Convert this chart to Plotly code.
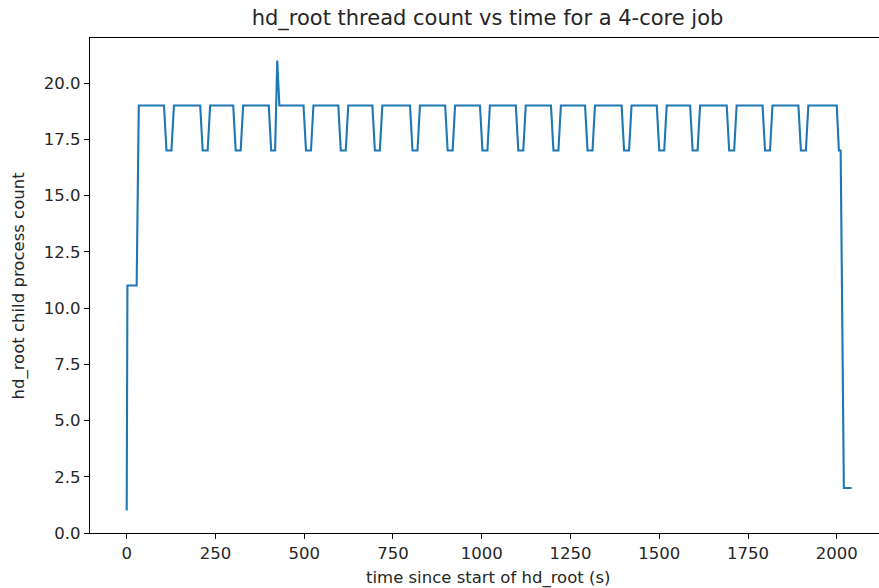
import plotly.graph_objects as go

# Data (time in s, thread count)
time_s = [
    0, 2, 28, 34,
    105, 112, 126, 133,
    207, 214, 228, 235,
    300, 307, 321, 328,
    400, 407, 418, 424, 430,
    498, 505, 519, 526,
    596, 603, 617, 624,
    692, 699, 713, 720,
    798, 805, 819, 826,
    897, 904, 918, 925,
    995, 1002, 1016, 1023,
    1096, 1103, 1117, 1124,
    1195, 1202, 1216, 1223,
    1291, 1298, 1312, 1319,
    1394, 1401, 1415, 1422,
    1493, 1500, 1514, 1521,
    1587, 1594, 1608, 1615,
    1690, 1697, 1711, 1718,
    1791, 1798, 1812, 1819,
    1892, 1899, 1913, 1920,
    2000, 2006, 2011, 2020, 2042,
]
thread_count = [
    1, 11, 11, 19,
    19, 17, 17, 19,
    19, 17, 17, 19,
    19, 17, 17, 19,
    19, 17, 17, 21, 19,
    19, 17, 17, 19,
    19, 17, 17, 19,
    19, 17, 17, 19,
    19, 17, 17, 19,
    19, 17, 17, 19,
    19, 17, 17, 19,
    19, 17, 17, 19,
    19, 17, 17, 19,
    19, 17, 17, 19,
    19, 17, 17, 19,
    19, 17, 17, 19,
    19, 17, 17, 19,
    19, 17, 17, 19,
    19, 17, 17, 19,
    19, 17, 17, 19,
    19, 17, 17, 2, 2,
]
x_ticks = [0, 250, 500, 750, 1000, 1250, 1500, 1750, 2000]
y_ticks = [0.0, 2.5, 5.0, 7.5, 10.0, 12.5, 15.0, 17.5, 20.0]

title_text = "hd_root thread count vs time for a 4-core job"
x_label = "time since start of hd_root (s)"
y_label = "hd_root child process count"

FONT = "DejaVu Sans"

fig = go.Figure()
fig.add_trace(go.Scatter(
    x=time_s, y=thread_count, mode="lines",
    line=dict(color="#1f77b4", width=2.1),
    showlegend=False, hoverinfo="skip",
))

fig.update_layout(
    width=879, height=588,
    margin=dict(l=90, r=0, t=38, b=55, autoexpand=False),
    paper_bgcolor="white", plot_bgcolor="white",
    font=dict(family=FONT, size=16, color="#262626"),
    title=dict(text=title_text, x=487.5 / 879, xanchor="center",
               y=1 - 18 / 588, yanchor="middle",
               font=dict(family=FONT, size=21, color="#262626")),
    xaxis=dict(range=[-103.4, 2119], tickvals=x_ticks,
               ticktext=[str(v) for v in x_ticks],
               showgrid=False, zeroline=False,
               showline=True, linecolor="black", linewidth=1.2, mirror=True,
               ticks="outside", ticklen=5, tickwidth=1.2, tickcolor="black",
               tickfont=dict(family=FONT, size=16.5, color="#262626")),
    yaxis=dict(range=[0, 22], tickvals=y_ticks,
               ticktext=["%.1f" % v for v in y_ticks],
               showgrid=False, zeroline=False,
               showline=True, linecolor="black", linewidth=1.2,
               ticks="outside", ticklen=5, tickwidth=1.2, tickcolor="black",
               tickfont=dict(family=FONT, size=16.5, color="#262626")),
    annotations=[
        dict(text=x_label, xref="paper", yref="paper",
             x=(487.5 - 90) / 789, y=(532.5 - 577) / 495,
             xanchor="center", yanchor="middle", showarrow=False,
             font=dict(family=FONT, size=16.5, color="#262626")),
        dict(text=y_label, xref="paper", yref="paper",
             x=(18 - 90) / 789, y=0.5, textangle=-90,
             xanchor="center", yanchor="middle", showarrow=False,
             font=dict(family=FONT, size=16.5, color="#262626")),
    ],
)

fig.write_html(
    "out.html",
    config={"displayModeBar": False},
    post_script="document.body.style.margin='0';document.body.style.overflow='hidden';",
)
